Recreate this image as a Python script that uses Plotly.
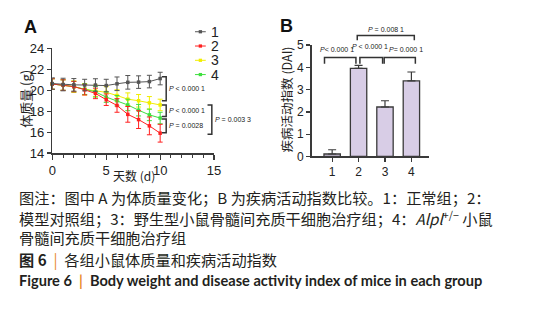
import plotly.graph_objects as go

# ---------------- data ----------------
days = [0, 1, 2, 3, 4, 5, 6, 7, 8, 9, 10]
group_names = ["1", "2", "3", "4"]
weight_g1 = [20.64, 20.55, 20.52, 20.5, 20.5, 20.45, 20.62, 20.76, 20.78, 20.83, 21.12]
weight_g2 = [20.6, 20.5, 20.35, 20.05, 19.7, 19.1, 18.55, 17.7, 17.2, 16.6, 15.9]
weight_g3 = [20.6, 20.5, 20.35, 20.1, 19.95, 19.8, 19.5, 19.15, 19.0, 18.8, 18.6]
weight_g4 = [20.6, 20.5, 20.35, 20.1, 19.85, 19.35, 19.0, 18.6, 18.1, 17.65, 17.35]
err_g1 = [0.55, 0.6, 0.6, 0.55, 0.6, 0.6, 0.65, 0.65, 0.6, 0.6, 0.6]
err_g2 = [0.5, 0.5, 0.5, 0.5, 0.5, 0.55, 0.65, 0.75, 0.85, 0.85, 0.85]
err_g3 = [0.5, 0.5, 0.55, 0.55, 0.55, 0.55, 0.55, 0.6, 0.6, 0.6, 0.55]
err_g4 = [0.5, 0.5, 0.5, 0.5, 0.5, 0.5, 0.5, 0.55, 0.55, 0.55, 0.55]

dai_values = [0.11, 3.95, 2.22, 3.39]
dai_err = [0.19, 0.14, 0.28, 0.4]

a_ticks_x = [0, 5, 10, 15]
a_ticks_y = [14, 16, 18, 20, 22, 24]
b_ticks_y = [0, 1, 2, 3, 4, 5]

# comparisons panel A: (top, bottom, label)
a_cmp_top = [21.3, 18.6, 17.25, 18.6]
a_cmp_bot = [19.0, 17.5, 15.95, 15.8]
a_cmp_lab = ["<i>P</i> < 0.000 1", "<i>P</i> < 0.000 1", "<i>P</i> = 0.0028", "<i>P</i> = 0.003 3"]
# comparisons panel B: (from, to, level, label)
b_cmp_x0 = [-0.29, 1.05, 1.97, 0.95]
b_cmp_x1 = [0.9, 1.91, 3.15, 3.11]
b_cmp_lvl = [4.44, 4.44, 4.44, 5.43]
b_cmp_lab = ["<i>P</i>< 0.000 1", "<i>P</i> < 0.000 1", "<i>P</i>= 0.000 1", "<i>P</i> = 0.008 1"]

# ---------------- layout geometry ----------------
W, H = 536, 311
def px(x):
    return x / W
def py(y):
    return (H - y) / H

AX_DOM = [px(49.3), px(214.5)]
AY_DOM = [py(153.5), py(43.5)]
BX_DOM = [px(314), px(434)]
BY_DOM = [py(157), py(40)]
AX_RANGE = [0, 15]
AY_RANGE = [14, 24]
BX_RANGE = [-0.78, 3.67]
BY_RANGE = [0, 5]

def bx(v):
    return BX_DOM[0] + (v - BX_RANGE[0]) / (BX_RANGE[1] - BX_RANGE[0]) * (BX_DOM[1] - BX_DOM[0])
def by(v):
    return BY_DOM[0] + (v - BY_RANGE[0]) / (BY_RANGE[1] - BY_RANGE[0]) * (BY_DOM[1] - BY_DOM[0])

AXC = "#3a3a3a"
TXT = "#222222"
colors = {"1": "#555555", "2": "#ff2020", "3": "#f2ee00", "4": "#3fe03f"}
series = {"1": (weight_g1, err_g1), "2": (weight_g2, err_g2),
          "3": (weight_g3, err_g3), "4": (weight_g4, err_g4)}

fig = go.Figure()

for g in ["3", "4", "2", "1"]:
    vals, errs = series[g]
    fig.add_trace(go.Scatter(
        x=days, y=vals, mode="lines+markers", name=g,
        line=dict(color=colors[g], width=1),
        marker=dict(color=colors[g], size=3.5, symbol="square"),
        error_y=dict(type="data", array=errs, color=colors[g], thickness=1, width=2.5),
        cliponaxis=False, xaxis="x", yaxis="y", showlegend=False))

fig.add_trace(go.Bar(
    x=list(range(len(group_names))), y=dai_values, width=0.62,
    marker=dict(color="#d8cde6", line=dict(color=AXC, width=1.3)),
    error_y=dict(type="data", symmetric=False, array=dai_err,
                 arrayminus=[0] * len(dai_err), color=AXC, thickness=1.2, width=4),
    xaxis="x2", yaxis="y2", showlegend=False))

axis_common = dict(showline=True, linecolor=AXC, linewidth=1.5, ticks="outside",
                   tickcolor=AXC, tickwidth=1.3, showgrid=False, zeroline=False,
                   tickfont=dict(family="Liberation Sans, Arial", size=13, color=TXT))

shapes = []
annotations = []
PFONT = dict(family="Liberation Sans, Arial", size=7, color=TXT)

# panel A brackets
a_cmp_xv = [10.56, 10.56, 10.56, 14.79]
for xv, t, b, lab in zip(a_cmp_xv, a_cmp_top, a_cmp_bot, a_cmp_lab):
    shapes.append(dict(type="path", xref="x", yref="y",
                       path=f"M {xv-0.4},{t} L {xv},{t} L {xv},{b} L {xv-0.4},{b}",
                       line=dict(color="#333333", width=1.5)))
    annotations.append(dict(x=xv + 0.1, y=(t + b) / 2, xref="x", yref="y", text=lab,
                            showarrow=False, xanchor="left", yanchor="middle", font=PFONT))

# panel B brackets
for i, (x0, x1, lv) in enumerate(zip(b_cmp_x0, b_cmp_x1, b_cmp_lvl)):
    drop = 0.28 if i < 3 else 0.21
    shapes.append(dict(type="path", xref="paper", yref="paper",
                       path=f"M {bx(x0)},{by(lv-drop)} L {bx(x0)},{by(lv)} L {bx(x1)},{by(lv)} L {bx(x1)},{by(lv-drop)}",
                       line=dict(color="#333333", width=1.5)))
b_lab_x = [0.19, 1.42, 2.8, 2.04]
b_lab_y = [4.79, 4.93, 4.79, 5.71]
for lx, ly, lab in zip(b_lab_x, b_lab_y, b_cmp_lab):
    annotations.append(dict(x=bx(lx), y=by(ly), xref="paper", yref="paper", text=lab,
                            showarrow=False, xanchor="center", yanchor="middle", font=PFONT))

# manual legend
leg_rows = [26, 41, 56, 71]
for g, yy in zip(group_names, leg_rows):
    shapes.append(dict(type="line", xref="paper", yref="paper", x0=px(195), x1=px(206),
                       y0=py(yy), y1=py(yy), line=dict(color=colors[g], width=1)))
    shapes.append(dict(type="rect", xref="paper", yref="paper", x0=px(198.8), x1=px(202.2),
                       y0=py(yy + 1.7), y1=py(yy - 1.7), line=dict(width=0), fillcolor=colors[g]))
    annotations.append(dict(x=px(209), y=py(yy), xref="paper", yref="paper", text=g,
                            showarrow=False, xanchor="left", yanchor="middle",
                            font=dict(family="Liberation Sans, Arial", size=14, color=TXT)))

# panel letters and axis titles
titles = [
    dict(x=px(27.5), y=py(21), text="<b>A</b>", font=dict(family="Liberation Sans, Arial", size=18, color="#111")),
    dict(x=px(288.7), y=py(20), text="<b>B</b>", font=dict(family="Liberation Sans, Arial", size=18, color="#111")),
    dict(x=px(22), y=py(97), text="体质量 (g)", textangle=-90,
         font=dict(family="Noto Sans CJK SC", size=13, color=TXT)),
    dict(x=px(133), y=py(177.5), text="天数 (d)",
         font=dict(family="Noto Sans CJK SC", size=12, color=TXT)),
    dict(x=px(288), y=py(97), text="疾病活动指数 (DAI)", textangle=-90,
         font=dict(family="Noto Sans CJK SC", size=12.5, color=TXT)),
]
for a in titles:
    a.update(xref="paper", yref="paper", showarrow=False, xanchor="center", yanchor="middle")
annotations += titles

# caption
cap_font = dict(family="Noto Sans CJK SC", size=15.2, color="#231f20")
orange = "#e8892c"
caption_lines = [
    (200, "图注：图中 A 为体质量变化；B 为疾病活动指数比较。1：正常组；2：", cap_font),
    (221.5, "模型对照组；3：野生型小鼠骨髓间充质干细胞治疗组；4：<i>Alpl</i><sup>+/−</sup> 小鼠", cap_font),
    (242, "骨髓间充质干细胞治疗组", cap_font),
    (265, f"<b>图 6</b>  <span style='color:{orange}'>|</span>  各组小鼠体质量和疾病活动指数", cap_font),
    (287.5, f"<b>Figure 6  <span style='color:{orange}'>|</span>  Body weight and disease activity index of mice in each group</b>",
     dict(family="Lato", size=14.6, color="#231f20")),
]
for yy, txt, f in caption_lines:
    annotations.append(dict(x=px(13), y=py(yy), xref="paper", yref="paper", text=txt,
                            showarrow=False, xanchor="left", yanchor="middle", font=f))

fig.update_layout(
    width=W, height=H, autosize=False,
    margin=dict(l=0, r=0, t=0, b=0),
    paper_bgcolor="white", plot_bgcolor="white",
    showlegend=False, hovermode=False,
    xaxis=dict(domain=AX_DOM, range=AX_RANGE, anchor="y", tickvals=a_ticks_x, ticklen=5,
               minor=dict(dtick=1, ticks="outside", ticklen=3, tickwidth=1, tickcolor=AXC),
               **axis_common),
    yaxis=dict(domain=AY_DOM, range=AY_RANGE, anchor="x", tickvals=a_ticks_y, ticklen=4,
               **axis_common),
    xaxis2=dict(domain=BX_DOM, range=BX_RANGE, anchor="y2",
                tickvals=list(range(len(group_names))), ticktext=group_names, ticklen=4,
                **{**axis_common, "tickfont": dict(family="Liberation Sans, Arial", size=12, color=TXT)}),
    yaxis2=dict(domain=BY_DOM, range=BY_RANGE, anchor="x2", tickvals=b_ticks_y, ticklen=4,
                **{**axis_common, "tickfont": dict(family="Liberation Sans, Arial", size=12, color=TXT)}),
    shapes=shapes, annotations=annotations,
)

fig.write_html("out.html", config={"displayModeBar": False, "staticPlot": True},
               post_script="document.body.style.margin='0px';document.body.style.overflow='hidden';")
